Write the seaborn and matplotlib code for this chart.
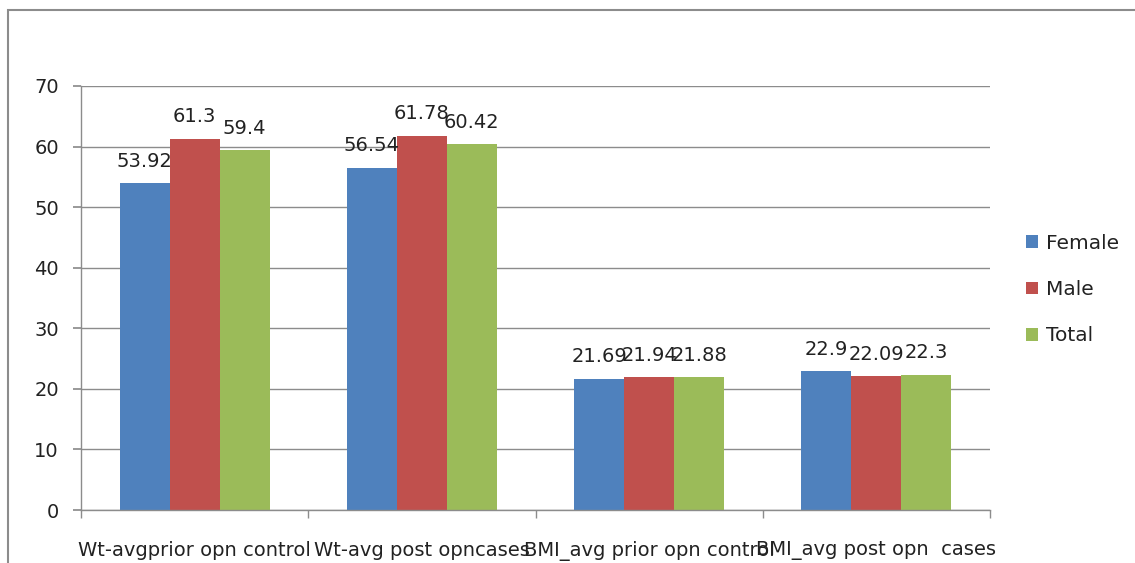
import matplotlib
matplotlib.use("Agg")
import matplotlib.pyplot as plt
from matplotlib.patches import Rectangle
from matplotlib.font_manager import fontManager
import seaborn as sns
import pandas as pd
import numpy as np

categories = ["Wt-avgprior opn control", "Wt-avg post opncases",
              "BMI_avg prior opn control", "BMI_avg post opn  cases"]
series = ["Female", "Male", "Total"]
female = [53.92, 56.54, 21.69, 22.9]
male = [61.3, 61.78, 21.94, 22.09]
total = [59.4, 60.42, 21.88, 22.3]
yticks = [0, 10, 20, 30, 40, 50, 60, 70]

colors = ["#4F81BD", "#C0504D", "#9BBB59"]

sns.set_theme(style="white")
names = {f.name for f in fontManager.ttflist}
narrow = "Liberation Sans Narrow" if "Liberation Sans Narrow" in names else "DejaVu Sans"
plt.rcParams["font.family"] = ["DejaVu Sans"]

df = pd.DataFrame({
    "category": np.repeat(categories, len(series)),
    "series": series * len(categories),
    "value": [v for trio in zip(female, male, total) for v in trio],
})

fig = plt.figure(figsize=(11.35, 5.63), dpi=100)
ax = fig.add_axes([81 / 1135, 1 - 510 / 563, (990 - 81) / 1135, (510 - 86) / 563])

sns.barplot(data=df, x="category", y="value", hue="series", order=categories,
            hue_order=series, palette=colors, width=0.66, gap=0,
            saturation=1, ax=ax, legend=True, linewidth=0)

for cont in ax.containers:
    ax.bar_label(cont, labels=[f"{v:g}" for v in cont.datavalues],
                 padding=9, fontsize=14, color="#222222")

ax.set_ylim(0, 70)
ax.set_yticks(yticks)
ax.set_xlim(-0.5, len(categories) - 0.5)
ax.yaxis.grid(True, color="#8c8c8c", linewidth=1)
ax.set_axisbelow(True)
ax.set_xlabel("")
ax.set_ylabel("")

for side in ["top", "right"]:
    ax.spines[side].set_visible(False)
for side in ["left", "bottom"]:
    ax.spines[side].set_color("#8c8c8c")
    ax.spines[side].set_linewidth(1)

ax.tick_params(axis="y", which="major", left=True, length=6, color="#8c8c8c",
               labelsize=14, labelcolor="#222222", pad=10)
# category boundaries carry the tick marks, labels sit at the centres
ax.set_xticks(np.arange(len(categories)))
ax.set_xticklabels(categories, fontsize=14, family=[narrow, "DejaVu Sans"], color="#222222")
ax.tick_params(axis="x", which="major", length=0, pad=22)
ax.set_xticks(np.arange(len(categories) + 1) - 0.5, minor=True)
ax.tick_params(axis="x", which="minor", bottom=True, length=6, color="#8c8c8c")

leg = ax.legend(loc="center left", bbox_to_anchor=(1.02, 0.52), frameon=False,
                fontsize=14.5, handlelength=0.6, handleheight=0.6,
                labelspacing=1.35, handletextpad=0.4)
for t in leg.get_texts():
    t.set_color("#222222")

# outer chart frame
fig.patches.append(Rectangle((8 / 1135, -0.1), 1.2, 1 - 10 / 563 + 0.1,
                             transform=fig.transFigure, fill=False,
                             edgecolor="#8c8c8c", linewidth=1.5))

fig.savefig("out.png", dpi=100)
